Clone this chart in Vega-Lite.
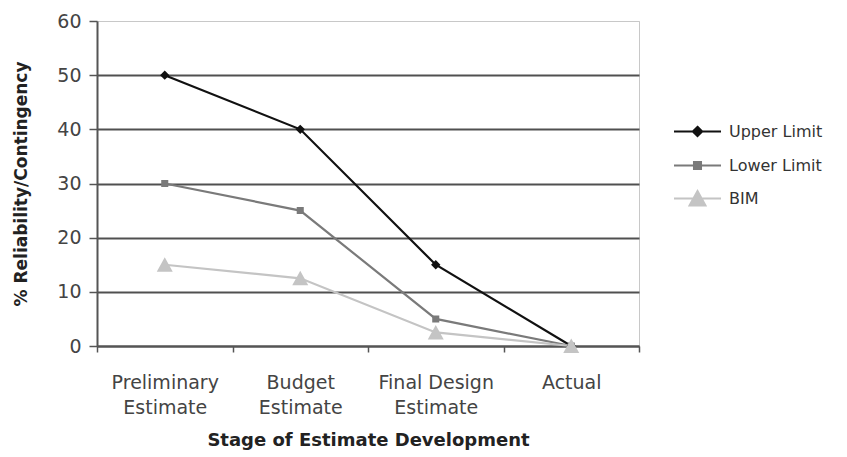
{
  "$schema": "https://vega.github.io/schema/vega-lite/v6.json",
  "autosize": {"type": "none"},
  "width": 542,
  "height": 325,
  "padding": {"left": 97, "top": 21, "right": 208, "bottom": 111},
  "background": "white",
  "config": {
    "view": {"stroke": "#c8c8c8", "strokeWidth": 1},
    "font": "DejaVu Sans"
  },
  "data": {
    "values": [
      {"stage": "Preliminary Estimate", "series": "Upper Limit", "value": 50},
      {"stage": "Budget Estimate", "series": "Upper Limit", "value": 40},
      {"stage": "Final Design Estimate", "series": "Upper Limit", "value": 15},
      {"stage": "Actual", "series": "Upper Limit", "value": 0},
      {"stage": "Preliminary Estimate", "series": "Lower Limit", "value": 30},
      {"stage": "Budget Estimate", "series": "Lower Limit", "value": 25},
      {"stage": "Final Design Estimate", "series": "Lower Limit", "value": 5},
      {"stage": "Actual", "series": "Lower Limit", "value": 0},
      {"stage": "Preliminary Estimate", "series": "BIM", "value": 15},
      {"stage": "Budget Estimate", "series": "BIM", "value": 12.5},
      {"stage": "Final Design Estimate", "series": "BIM", "value": 2.5},
      {"stage": "Actual", "series": "BIM", "value": 0}
    ]
  },
  "encoding": {
    "x": {
      "field": "stage",
      "type": "nominal",
      "sort": ["Preliminary Estimate", "Budget Estimate", "Final Design Estimate", "Actual"],
      "scale": {"type": "band", "paddingInner": 0, "paddingOuter": 0},
      "axis": {
        "title": "Stage of Estimate Development",
        "titleFont": "DejaVu Sans",
        "titleFontSize": 18,
        "titleFontWeight": "bold",
        "titleColor": "#222",
        "titlePadding": 14,
        "labelAngle": 0,
        "labelFont": "DejaVu Sans",
        "labelFontSize": 19,
        "labelColor": "#444",
        "labelLineHeight": 25,
        "labelPadding": 21,
        "labelExpr": "datum.label == 'Final Design Estimate' ? ['Final Design', 'Estimate'] : split(datum.label, ' ')",
        "tickBand": "extent",
        "tickSize": 6,
        "tickColor": "#555",
        "tickWidth": 1.5,
        "domainColor": "#555",
        "domainWidth": 2,
        "grid": false
      }
    },
    "y": {
      "field": "value",
      "type": "quantitative",
      "scale": {"domain": [0, 60]},
      "axis": {
        "title": "% Reliability/Contingency",
        "titleFont": "DejaVu Sans",
        "titleFontSize": 17,
        "titleFontWeight": "bold",
        "titleColor": "#222",
        "titlePadding": 26,
        "values": [0, 10, 20, 30, 40, 50, 60],
        "labelFont": "DejaVu Sans",
        "labelFontSize": 19,
        "labelColor": "#444",
        "labelPadding": 8,
        "tickSize": 8,
        "tickColor": "#555",
        "tickWidth": 1.5,
        "domainColor": "#555",
        "domainWidth": 2,
        "grid": true,
        "gridColor": {"condition": {"test": "datum.value == 60", "value": "#c8c8c8"}, "value": "#505050"},
        "gridWidth": {"condition": {"test": "datum.value == 60", "value": 1}, "value": 2}
      }
    },
    "color": {
      "field": "series",
      "type": "nominal",
      "sort": ["Upper Limit", "Lower Limit", "BIM"],
      "scale": {"domain": ["Upper Limit", "Lower Limit", "BIM"], "range": ["#111111", "#7a7a7a", "#c4c4c4"]},
      "legend": {
        "title": null,
        "orient": "none",
        "legendX": 576,
        "legendY": 86,
        "padding": 0,
        "symbolSize": 2209,
        "rowPadding": -14,
        "labelFont": "DejaVu Sans",
        "labelFontSize": 16,
        "labelColor": "#333",
        "labelOffset": 7,
        "encode": {
          "symbols": {
            "update": {
              "stroke": {"scale": "color", "field": "value"},
              "strokeWidth": {"value": 2}
            }
          }
        }
      }
    }
  },
  "layer": [
    {
      "mark": {"type": "line", "strokeWidth": 2.2},
      "encoding": {
        "detail": {"field": "series"}
      }
    },
    {
      "mark": {"type": "point", "filled": true, "opacity": 1, "size": 2209, "strokeWidth": 0},
      "encoding": {
        "shape": {
          "field": "series",
          "type": "nominal",
          "sort": ["Upper Limit", "Lower Limit", "BIM"],
          "scale": {
            "domain": ["Upper Limit", "Lower Limit", "BIM"],
            "range": [
              "M-1,0L1,0M0,-0.2L0.2,0L0,0.2L-0.2,0Z",
              "M-1,0L1,0M-0.15,-0.15L0.15,-0.15L0.15,0.15L-0.15,0.15Z",
              "M-1,0L1,0M0,-0.32L0.34,0.3L-0.34,0.3Z"
            ]
          },
          "legend": {
            "title": null,
            "orient": "none",
            "legendX": 576,
            "legendY": 86,
            "padding": 0,
            "symbolSize": 2209,
            "rowPadding": -14,
            "labelFont": "DejaVu Sans",
            "labelFontSize": 16,
            "labelColor": "#333",
            "labelOffset": 7,
            "encode": {
              "symbols": {
                "update": {
                  "stroke": {"scale": "color", "field": "value"},
                  "strokeWidth": {"value": 2}
                }
              }
            }
          }
        }
      }
    }
  ]
}
